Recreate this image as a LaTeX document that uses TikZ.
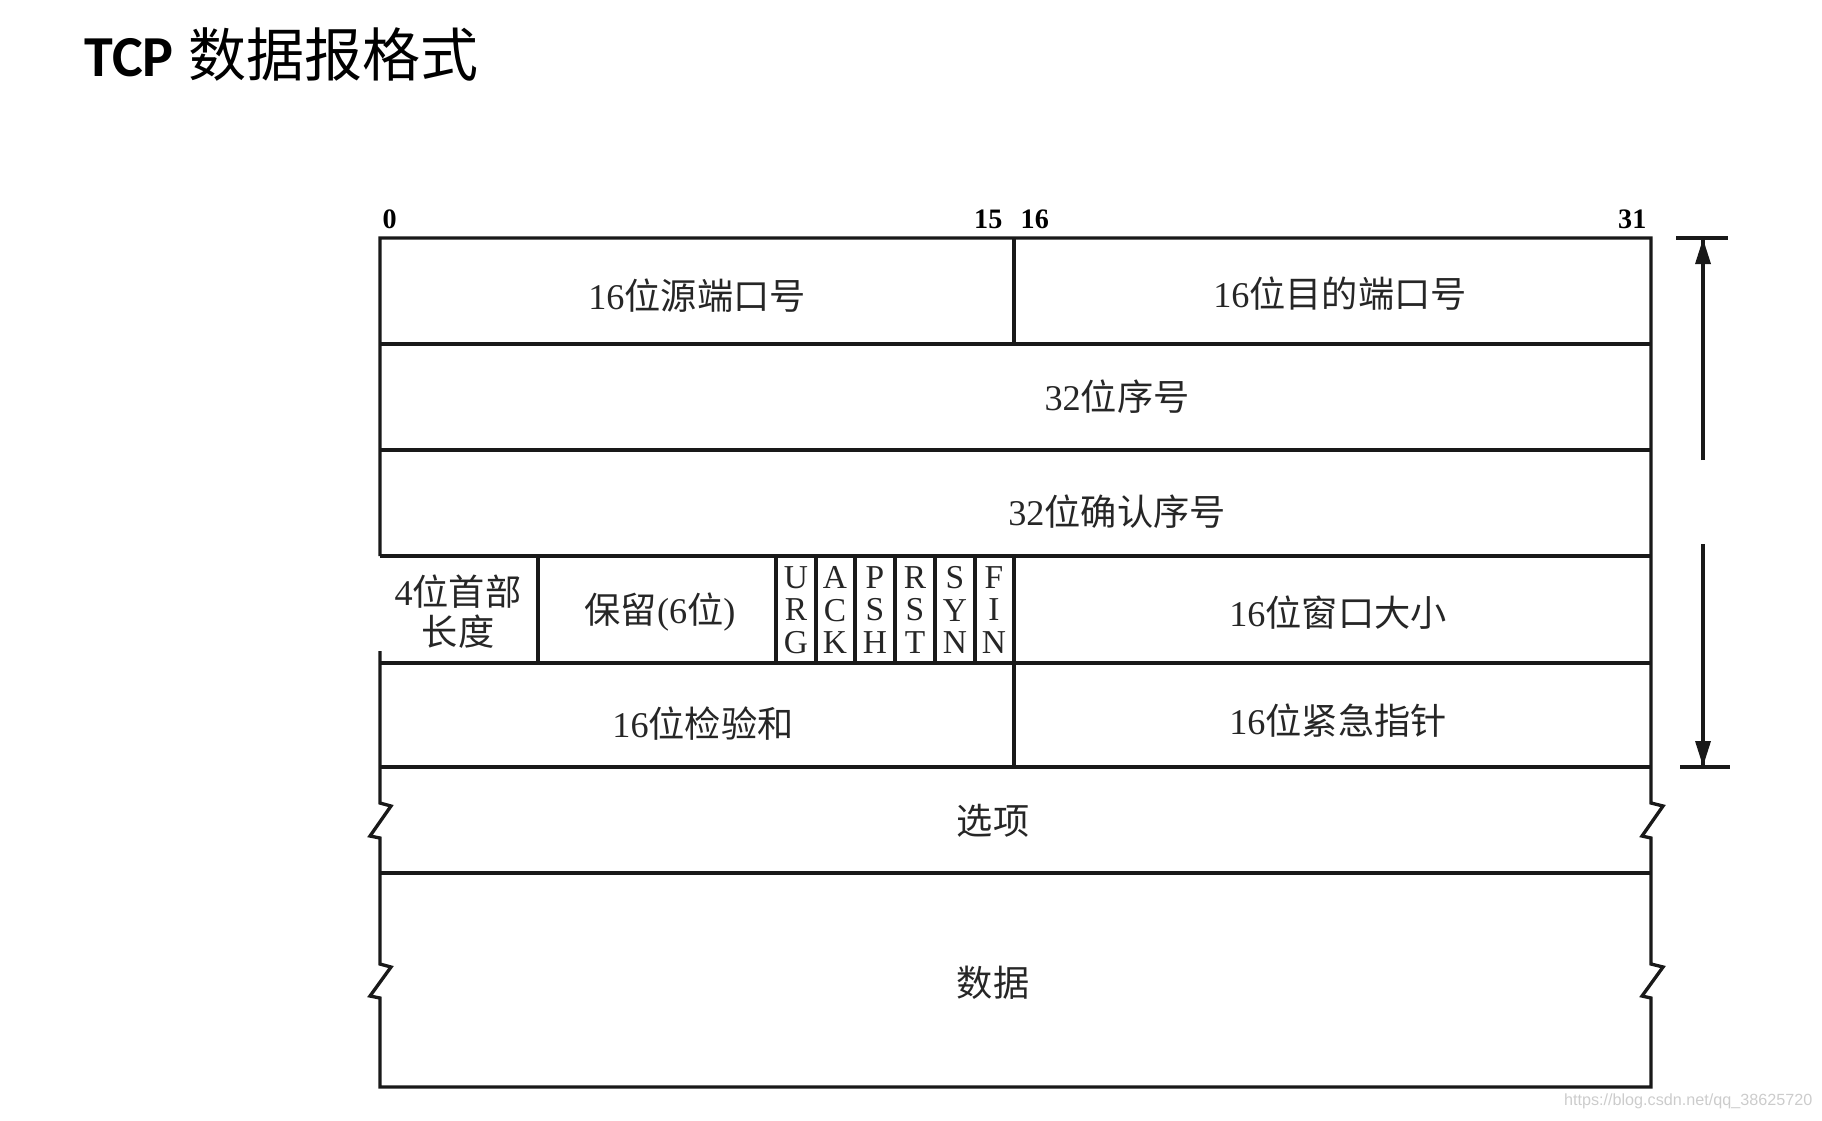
\documentclass[tikz,border=0pt]{standalone}
\usepackage{fontspec}
\setmainfont{Liberation Serif}
\newfontfamily\cjk{Noto Sans CJK SC}
\newfontfamily\titlefont{Carlito}
\newfontfamily\markfont{Liberation Sans}
\newcommand\zh[1]{{\cjk #1}}

\begin{document}
\begin{tikzpicture}[x=0.01cm, y=0.01cm]
\tikzstyle{every node}+=[inner sep=0pt]
\tikzstyle{field}=[font=\fontsize{10.3}{11.4}\selectfont, text=black!85, align=center]
\tikzstyle{flag}=[font=\fontsize{9.5}{9.3}\selectfont, text=black!85, align=center]
\tikzstyle{bitno}=[font=\fontsize{8}{9}\selectfont\bfseries]
\tikzstyle{rule}=[line width=0.95pt, black!90]
\useasboundingbox (0,0) rectangle (1822,-1120);
% title
\node [anchor=west] (title) at (84,-54) {\fontsize{16.5}{19}\selectfont{\titlefont\bfseries TCP} \zh{数据报格式}};
% bit numbers
\node [bitno, anchor=south west] (b0) at (382,-229) {0};
\node [bitno, anchor=south east] (b15) at (1003,-229) {15};
\node [bitno, anchor=south west] (b16) at (1020,-229) {16};
\node [bitno, anchor=south east] (b31) at (1647,-229) {31};
% frame, with the breaks in options and data
\draw [rule] (380,-556) -- (380,-238) -- (1651,-238) -- (1651,-803) -- (1663,-806) -- (1642,-836) -- (1651,-838)
  -- (1651,-964) -- (1663,-967) -- (1642,-996) -- (1651,-998) -- (1651,-1087) -- (380,-1087)
  -- (380,-998) -- (370,-996) -- (391,-967) -- (380,-964) -- (380,-838) -- (370,-836) -- (391,-806) -- (380,-803) -- (380,-651);
\draw [rule] (380,-344) -- (1651,-344);
\draw [rule] (380,-450) -- (1651,-450);
\draw [rule] (380,-556) -- (1651,-556);
\draw [rule] (380,-663) -- (1651,-663);
\draw [rule] (380,-767) -- (1651,-767);
\draw [rule] (380,-873) -- (1651,-873);
\draw [rule] (1014,-238) -- (1014,-344);
\draw [rule] (538,-556) -- (538,-663);
\draw [rule] (776,-556) -- (776,-663);
\draw [rule] (816,-556) -- (816,-663);
\draw [rule] (855,-556) -- (855,-663);
\draw [rule] (895,-556) -- (895,-663);
\draw [rule] (935,-556) -- (935,-663);
\draw [rule] (975,-556) -- (975,-663);
\draw [rule] (1014,-556) -- (1014,-767);
% fields
\node [field] (sport) at (697,-296) {16\zh{位源端口号}};
\node [field] (dport) at (1340,-294) {16\zh{位目的端口号}};
\node [field] (seq) at (1117,-397) {32\zh{位序号}};
\node [field] (ack) at (1117,-512) {32\zh{位确认序号}};
\node [field] (hlen) at (458,-612) {4\zh{位首部}\\\zh{长度}};
\node [field] (resv) at (660,-612) {\zh{保留}(6\zh{位})};
\node [flag] (urg) at (796,-610) {U\\R\\G};
\node [flag] (ackf) at (835,-610) {A\\C\\K};
\node [flag] (psh) at (875,-610) {P\\S\\H};
\node [flag] (rst) at (915,-610) {R\\S\\T};
\node [flag] (syn) at (955,-610) {S\\Y\\N};
\node [flag] (fin) at (994,-610) {F\\I\\N};
\node [field] (win) at (1338,-613) {16\zh{位窗口大小}};
\node [field] (sum) at (703,-724) {16\zh{位检验和}};
\node [field] (urgp) at (1338,-721) {16\zh{位紧急指针}};
\node [field] (opt) at (993,-821) {\zh{选项}};
\node [field] (data) at (993,-983) {\zh{数据}};
% header length arrows
\coordinate (lentop) at (1703,-238);
\coordinate (lenup) at (1703,-460);
\coordinate (lendown) at (1703,-544);
\coordinate (lenbot) at (1703,-767);
\draw [rule] (1676,-238) -- (1728,-238);
\draw [rule] (1680,-767) -- (1730,-767);
\draw [rule] (lenup) -- (lentop);
\draw [rule] (lendown) -- (lenbot);
\fill [black!90] (1703,-239) -- (1695,-264) -- (1711,-264);
\fill [black!90] (1703,-766) -- (1695,-741) -- (1711,-741);
% watermark
\node [anchor=east, text=black!20, font=\markfont\fontsize{4.6}{5}\selectfont] (mark) at (1813,-1101) {https://blog.csdn.net/qq\_38625720};
\end{tikzpicture}
\end{document}
